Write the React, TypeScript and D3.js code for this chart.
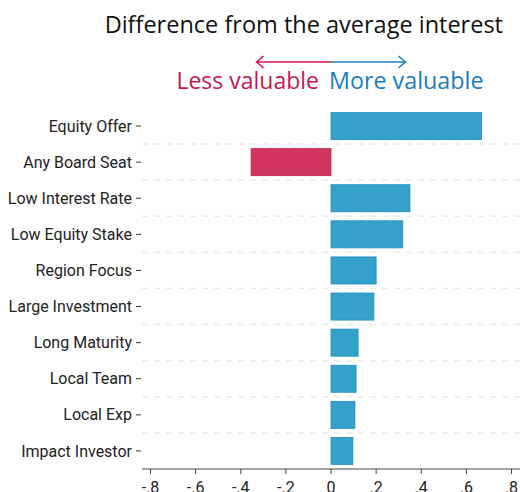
import React from 'react';
import * as d3 from 'd3';

// attributes, ordered top to bottom
const attributes = [
  'Equity Offer',
  'Any Board Seat',
  'Low Interest Rate',
  'Low Equity Stake',
  'Region Focus',
  'Large Investment',
  'Long Maturity',
  'Local Team',
  'Local Exp',
  'Impact Investor',
];
// difference from the average interest
const differences = [0.667, -0.354, 0.35, 0.318, 0.2, 0.19, 0.12, 0.111, 0.106, 0.097];
const xTicks = [-0.8, -0.6, -0.4, -0.2, 0, 0.2, 0.4, 0.6, 0.8];
const xTickLabels = ['-.8', '-.6', '-.4', '-.2', '0', '.2', '.4', '.6', '.8'];

const width = 520;
const height = 492;

const App = () => {
  const x = d3.scaleLinear().domain([-0.8, 0.8]).range([150.5, 511.5]);
  const y = d3.scaleBand().domain(attributes).range([108, 469]).paddingInner(0.25).paddingOuter(0.125);
  const step = y.step();
  const axisLeft = 142;

  const blue = '#33a1c9';
  const blueStroke = '#1c8fc0';
  const red = '#d1375e';
  const redStroke = '#c41e50';
  const textRed = '#c8174f';
  const textBlue = '#1a7cc4';

  const arrowY = 62;
  const arrowL = x(-0.33);
  const arrowR = x(0.33);

  return (
    <svg width={width} height={height} style={{ position: 'absolute', left: 0, top: 0, background: '#fff' }}>
      {/* title */}
      <text x={503} y={33} textAnchor="end" fontFamily="'Open Sans', sans-serif" fontSize={23.5} fill="#111">
        Difference from the average interest
      </text>

      {/* direction arrow */}
      <line x1={arrowL} x2={x(0)} y1={arrowY} y2={arrowY} stroke={textRed} strokeWidth={1.5} />
      <line x1={x(0)} x2={arrowR} y1={arrowY} y2={arrowY} stroke={textBlue} strokeWidth={1.5} />
      <path d={`M${arrowL + 7},${arrowY - 6} L${arrowL},${arrowY} L${arrowL + 7},${arrowY + 6}`} fill="none" stroke={textRed} strokeWidth={1.5} />
      <path d={`M${arrowR - 7},${arrowY - 6} L${arrowR},${arrowY} L${arrowR - 7},${arrowY + 6}`} fill="none" stroke={textBlue} strokeWidth={1.5} />
      <text x={x(0) - 12} y={89} textAnchor="end" fontFamily="'Open Sans', sans-serif" fontSize={23} fill={textRed}>
        Less valuable
      </text>
      <text x={x(0) - 2} y={89} textAnchor="start" fontFamily="'Open Sans', sans-serif" fontSize={23.3} fill={textBlue}>
        More valuable
      </text>

      {/* dashed separators between rows */}
      {attributes.slice(0, -1).map(a => {
        const gy = (y(a) as number) - y.paddingInner() * step / 2 + step;
        return (
          <line
            key={`g-${a}`}
            x1={axisLeft}
            x2={width}
            y1={gy}
            y2={gy}
            stroke="#ebebeb"
            strokeWidth={1.5}
            strokeDasharray="6,6"
          />
        );
      })}

      {/* bars */}
      {attributes.map((a, i) => {
        const v = differences[i];
        const x0 = x(Math.min(0, v));
        const x1 = x(Math.max(0, v));
        return (
          <rect
            key={a}
            x={x0}
            y={y(a)}
            width={x1 - x0}
            height={y.bandwidth()}
            fill={v < 0 ? red : blue}
            stroke={v < 0 ? redStroke : blueStroke}
            strokeWidth={0.8}
          />
        );
      })}

      {/* y axis labels and ticks */}
      {attributes.map(a => {
        const cy = (y(a) as number) + y.bandwidth() / 2;
        return (
          <g key={`l-${a}`}>
            <line x1={136} x2={141} y1={cy} y2={cy} stroke="#333" strokeWidth={1} />
            <text x={132} y={cy} dy="0.35em" textAnchor="end" fontFamily="Roboto, sans-serif" fontSize={16} fill="#222">
              {a}
            </text>
          </g>
        );
      })}

      {/* x axis */}
      <line x1={axisLeft} x2={width} y1={469} y2={469} stroke="#444" strokeWidth={1} />
      {xTicks.map((t, i) => (
        <g key={`t-${t}`}>
          <line x1={x(t)} x2={x(t)} y1={469} y2={474} stroke="#444" strokeWidth={1} />
          <text x={x(t)} y={493} textAnchor="middle" fontFamily="Roboto, sans-serif" fontSize={16} fill="#222">
            {xTickLabels[i]}
          </text>
        </g>
      ))}
    </svg>
  );
};

export default App;
